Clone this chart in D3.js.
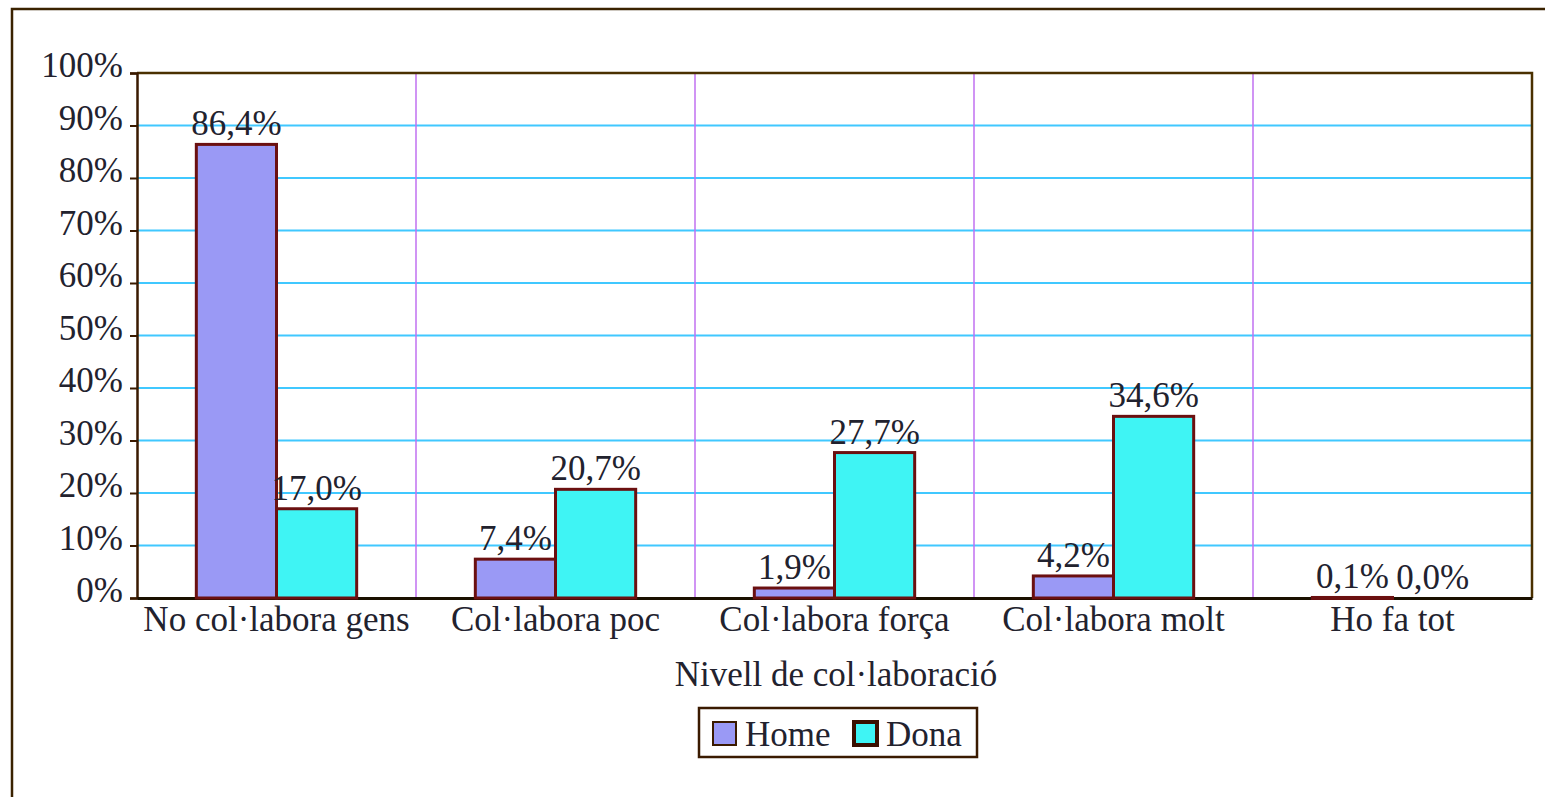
<!DOCTYPE html>
<html><head><meta charset="utf-8">
<script src="https://cdn.jsdelivr.net/npm/d3@7"></script>
<style>body{margin:0;background:#fff}svg{display:block}text{font-family:"Liberation Serif","Times New Roman",serif}</style>
</head><body><svg id="c" width="1545" height="797"></svg>
<script>
const categories = ["No col·labora gens","Col·labora poc","Col·labora força","Col·labora molt","Ho fa tot"];
const seriesNames = ["Home","Dona"];
const homeValues = [86.4, 7.4, 1.9, 4.2, 0.1];
const donaValues = [17.0, 20.7, 27.7, 34.6, 0.0];
const yTicks = [0,10,20,30,40,50,60,70,80,90,100];
const xTitle = "Nivell de col·laboració";

const svg = d3.select("#c");
const L=137, R=1532, T=73, B=598;
const fill = {Home:"#9a99f5", Dona:"#3ff4f4"};
const stroke = "#6b1010";
const textCol = "#22222e";
const fs = 35;

// outer border
svg.append("path").attr("d","M12,797 V9 H1545").attr("fill","none").attr("stroke","#3a2200").attr("stroke-width",2.5);

const x = d3.scaleBand().domain(categories).range([L,R]).paddingInner(0).paddingOuter(0);
const xs = d3.scaleBand().domain(seriesNames).range([0,x.bandwidth()]).paddingInner(0).paddingOuter(0.74);
const y = d3.scaleLinear().domain([0,100]).range([B,T]);

// horizontal grid
svg.append("g").selectAll("line").data(yTicks.filter(d=>d>0&&d<100)).join("line")
  .attr("x1",L).attr("x2",R).attr("y1",d=>y(d)).attr("y2",d=>y(d))
  .attr("stroke","#40c8ff").attr("stroke-width",2);
// vertical grid
svg.append("g").selectAll("line").data(categories.slice(1)).join("line")
  .attr("x1",d=>x(d)).attr("x2",d=>x(d)).attr("y1",T).attr("y2",B)
  .attr("stroke","#c070f0").attr("stroke-width",1.5);
// plot frame top/right
svg.append("path").attr("d",`M${L},${T} H${R} V${B}`).attr("fill","none").attr("stroke","#4a3000").attr("stroke-width",2.5);

// y axis
const ya = d3.axisLeft(y).tickValues(yTicks).tickFormat(d=>d+"%").tickSize(7).tickPadding(7);
const yg = svg.append("g").attr("transform",`translate(${L},0)`).call(ya);
yg.select(".domain").attr("stroke","#3a1a00").attr("stroke-width",2.5);
yg.selectAll(".tick line").attr("stroke","#3a1a00").attr("stroke-width",2);
yg.selectAll("text").attr("font-size",fs).attr("fill",textCol).attr("font-family","Liberation Serif").attr("dy","0.1em");

// x axis
const xa = d3.axisBottom(x).tickSize(0).tickPadding(8);
const xg = svg.append("g").attr("transform",`translate(0,${B})`).call(xa);
xg.select(".domain").attr("stroke","#1a1000").attr("stroke-width",3);
xg.selectAll("text").attr("font-size",fs).attr("fill",textCol).attr("font-family","Liberation Serif");

// bars
const data = categories.map((c,i)=>({c, vals:[{s:"Home",v:homeValues[i]},{s:"Dona",v:donaValues[i]}]}));
const grp = svg.append("g").selectAll("g").data(data).join("g").attr("transform",d=>`translate(${x(d.c)},0)`);
grp.selectAll("rect").data(d=>d.vals.filter(e=>e.v>0)).join("rect")
  .attr("x",d=>xs(d.s)).attr("width",xs.bandwidth())
  .attr("y",d=>y(d.v)).attr("height",d=>Math.max(1,y(0)-y(d.v)))
  .attr("fill",d=>fill[d.s]).attr("stroke",stroke).attr("stroke-width",3);
grp.selectAll("text").data(d=>d.vals).join("text")
  .attr("x",d=>xs(d.s)+xs.bandwidth()/2).attr("y",d=>y(d.v)-9)
  .attr("text-anchor","middle").attr("font-size",fs).attr("fill",textCol)
  .text(d=>d.v.toFixed(1).replace(".",",")+"%");

// x title
svg.append("text").attr("x",836).attr("y",686).attr("text-anchor","middle").attr("font-size",fs).attr("fill",textCol).text(xTitle);

// legend
const lg = svg.append("g");
lg.append("rect").attr("x",699).attr("y",708).attr("width",278).attr("height",49).attr("fill","#fff").attr("stroke","#3a1a00").attr("stroke-width",2.5);
const items = [{s:"Home",sx:713,tx:745},{s:"Dona",sx:854,tx:886}];
lg.selectAll("rect.sw").data(items).join("rect").attr("class","sw")
  .attr("x",d=>d.sx).attr("y",722).attr("width",23).attr("height",23)
  .attr("fill",d=>fill[d.s]).attr("stroke",d=>d.s==="Dona"?"#3a1000":"#3a1a00").attr("stroke-width",d=>d.s==="Dona"?4:2);
lg.selectAll("text").data(items).join("text").attr("x",d=>d.tx).attr("y",746)
  .attr("font-size",fs).attr("fill",textCol).text(d=>d.s);
</script></body></html>
